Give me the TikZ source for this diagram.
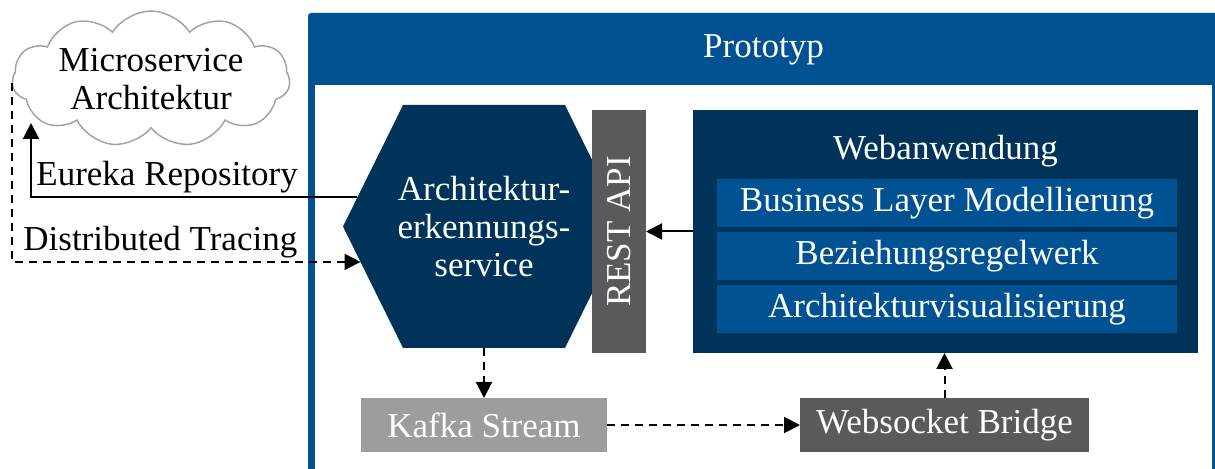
\documentclass[tikz,border=0pt]{standalone}
\usepackage{fontspec}
\setmainfont{Liberation Serif}
\usetikzlibrary{shapes.geometric,shapes.symbols,arrows.meta}

\definecolor{tumblue}{HTML}{005293}
\definecolor{tumdark}{HTML}{003359}
\definecolor{apigray}{HTML}{5A5A5C}
\definecolor{kafkagray}{HTML}{9C9D9F}
\definecolor{cloudgray}{HTML}{A3A3A3}

\begin{document}
\begin{tikzpicture}[x=0.5pt,y=-0.5pt,
  font=\fontsize{17.5}{19}\selectfont,
  tip/.style={-{Triangle[width=8pt,length=8pt]}},
  flow/.style={tip, line width=1pt},
  async/.style={flow, dash pattern=on 4pt off 3pt},
  block/.style={rectangle, inner sep=0pt, outer sep=0pt, text=white},
  layer/.style={block, fill=tumblue, minimum width=230pt, minimum height=24pt},
  edgelabel/.style={anchor=base west, inner sep=0pt}]

\useasboundingbox (0,0) rectangle (1215,469);
\clip (0,0) rectangle (1215,469);

% prototype frame with its header band
\fill[tumblue, rounded corners=1.5pt] (308,13) rectangle (1219,500);
\fill[white] (315,85) rectangle (1212,500);
\node[text=white] (title) at (763.5,50) {Prototyp};

% external microservice landscape
\node[cloud, draw=cloudgray, line width=0.75pt, cloud puffs=11,
      cloud puff arc=115, cloud ignores aspect,
      minimum width=139pt, minimum height=68pt, inner sep=0pt,
      label={[align=center, inner sep=0pt]center:Microservice\\Architektur}]
      (cloud) at (151,79) {};

% architecture recognition service (hexagon with pointed sides)
\node[signal, signal to=west and east, signal pointer angle=127.4,
      fill=tumdark, minimum width=141pt, minimum height=121.5pt,
      inner sep=0pt, outer sep=0pt,
      label={[align=center, text=white, inner sep=0pt]center:Architektur-\\erkennungs-\\service}]
      (hex) at (484,226.5) {};

% REST interface
\node[block, fill=apigray, minimum width=27pt, minimum height=121.5pt]
      (rest) at (619,231.5) {\rotatebox{90}{REST API}};

% web application with its layers
\node[block, fill=tumdark, minimum width=252.5pt, minimum height=121.5pt]
      (web) at (945.5,231.5) {};
\node[text=white, inner sep=0pt] (webtitle) at (945.5,151) {Webanwendung};
\node[layer] (bl)  at (947,203) {Business Layer Modellierung};
\node[layer] (rel) at (947,256) {Beziehungsregelwerk};
\node[layer] (vis) at (947,309) {Architekturvisualisierung};

% streaming path
\node[block, fill=kafkagray, minimum width=123pt, minimum height=27pt]
      (kafka) at (484,425) {Kafka Stream};
\node[block, fill=apigray, minimum width=144.5pt, minimum height=27pt]
      (ws) at (944.5,425) {Websocket Bridge};

% connectors
\coordinate (eurekaend) at (31,123);
\coordinate (tracestart) at (12,83);
\draw[flow] (hex.167) -| (eurekaend);
\draw[async] (tracestart) |- (hex.196);
\node[edgelabel] (eurekalbl) at (36,186) {Eureka Repository};
\node[edgelabel] (tracelbl) at (23,251) {Distributed Tracing};

\draw[flow] (web.west) -- (web.west -| rest.east);
\draw[async] (hex.south) -- (kafka.north);
\draw[async] (kafka.east) -- (ws.west);
\draw[async] (ws.north) -- (ws.north |- web.south);

\end{tikzpicture}
\end{document}
